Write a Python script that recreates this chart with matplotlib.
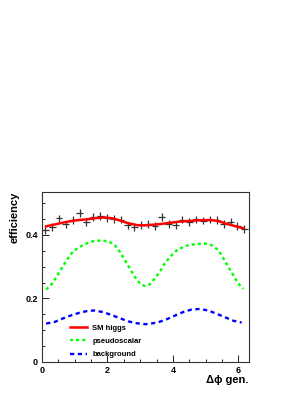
import numpy as np
import matplotlib
matplotlib.use("Agg")
import matplotlib.pyplot as plt
from matplotlib.ticker import MultipleLocator

plt.rcParams['font.family'] = ['Liberation Sans', 'DejaVu Sans']

# measured efficiency per bin (30 bins over 0..2pi)
n_bins = 30
bin_w = 2 * np.pi / n_bins
bin_x = (np.arange(n_bins) + 0.5) * bin_w
eff = [0.416, 0.424, 0.452, 0.433, 0.447, 0.469, 0.441, 0.456, 0.459, 0.453,
       0.450, 0.448, 0.430, 0.425, 0.431, 0.434, 0.429, 0.456, 0.434, 0.430,
       0.448, 0.441, 0.449, 0.445, 0.448, 0.447, 0.434, 0.442, 0.429, 0.419]
eff_err = 0.012

# SM higgs fit curve
sm_x = [0.13, 0.44, 0.75, 1.05, 1.36, 1.66, 1.92, 2.17, 2.43, 2.63, 2.89, 3.09,
        3.29, 3.60, 3.91, 4.21, 4.52, 4.82, 5.13, 5.38, 5.64, 5.89, 6.15]
sm_y = [0.427, 0.434, 0.441, 0.446, 0.449, 0.453, 0.455, 0.452, 0.444, 0.437,
        0.431, 0.430, 0.431, 0.434, 0.438, 0.442, 0.444, 0.446, 0.447, 0.444,
        0.435, 0.428, 0.421]

# pseudoscalar
ps_x = [0.13, 0.29, 0.44, 0.59, 0.75, 0.95, 1.15, 1.36, 1.56, 1.82, 2.07, 2.22,
        2.38, 2.53, 2.68, 2.83, 2.99, 3.14, 3.29, 3.45, 3.60, 3.75, 3.96, 4.16,
        4.42, 4.67, 4.98, 5.18, 5.38, 5.54, 5.69, 5.84, 5.99, 6.15]
ps_y = [0.228, 0.244, 0.267, 0.293, 0.319, 0.348, 0.362, 0.373, 0.380, 0.383,
        0.378, 0.368, 0.347, 0.321, 0.295, 0.269, 0.248, 0.239, 0.244, 0.263,
        0.284, 0.310, 0.336, 0.355, 0.366, 0.371, 0.373, 0.368, 0.353, 0.327,
        0.300, 0.274, 0.248, 0.230]

# background
bg_x = [0.13, 0.39, 0.64, 0.90, 1.15, 1.41, 1.61, 1.87, 2.12, 2.38, 2.63, 2.89,
        3.14, 3.29, 3.55, 3.80, 4.06, 4.31, 4.57, 4.82, 5.08, 5.33, 5.59, 5.84, 6.10]
bg_y = [0.121, 0.126, 0.137, 0.147, 0.155, 0.161, 0.162, 0.157, 0.148, 0.138,
        0.128, 0.122, 0.119, 0.120, 0.125, 0.134, 0.146, 0.157, 0.165, 0.167,
        0.162, 0.152, 0.141, 0.130, 0.124]

fig = plt.figure(figsize=(3.08, 3.98), dpi=100)
ax = fig.add_axes([0.136, 0.0905, 0.672, 0.427])

ax.errorbar(bin_x, eff, xerr=bin_w / 2, yerr=eff_err, fmt='none',
            ecolor='#333333', elinewidth=0.9, capsize=0)
ax.plot(sm_x, sm_y, color='#ff0000', lw=1.8, label='SM higgs')
ax.plot(ps_x, ps_y, color='#00ff00', lw=1.7, dashes=(1.3, 1.3), label='pseudoscalar')
ax.plot(bg_x, bg_y, color='#0000ff', lw=1.7, dashes=(1.8, 1.5), label='background')

ax.set_xlim(0, 6.32)
ax.set_ylim(0, 0.535)
ax.xaxis.set_major_locator(MultipleLocator(2))
ax.xaxis.set_minor_locator(MultipleLocator(0.5))
ax.yaxis.set_major_locator(MultipleLocator(0.2))
ax.yaxis.set_minor_locator(MultipleLocator(0.05))
ax.yaxis.set_major_formatter(plt.FuncFormatter(lambda v, p: '0' if v == 0 else f'{v:.1f}'))
ax.tick_params(which='both', direction='in', labelsize=6.5, width=0.6, pad=3)
ax.tick_params(which='major', length=5)
ax.tick_params(which='minor', length=2.5)
for lab in ax.get_xticklabels() + ax.get_yticklabels():
    lab.set_fontweight('bold')
for s in ax.spines.values():
    s.set_linewidth(0.8)
    s.set_color('#333333')

fig.text(0.049, 0.518, 'efficiency', rotation=90, ha='center', va='top',
         fontsize=8, fontweight='bold')
fig.text(0.808, 0.045, '\u0394\u03d5 gen.', ha='right', va='center',
         fontsize=8, fontweight='bold')

leg = ax.legend(loc='lower left', bbox_to_anchor=(0.135, 0.022), frameon=False,
                fontsize=5.5, handlelength=2.2, handletextpad=0.75,
                labelspacing=0.75, borderaxespad=0, borderpad=0)
for t in leg.get_texts():
    t.set_fontweight('bold')

fig.savefig('out.png', dpi=100)
